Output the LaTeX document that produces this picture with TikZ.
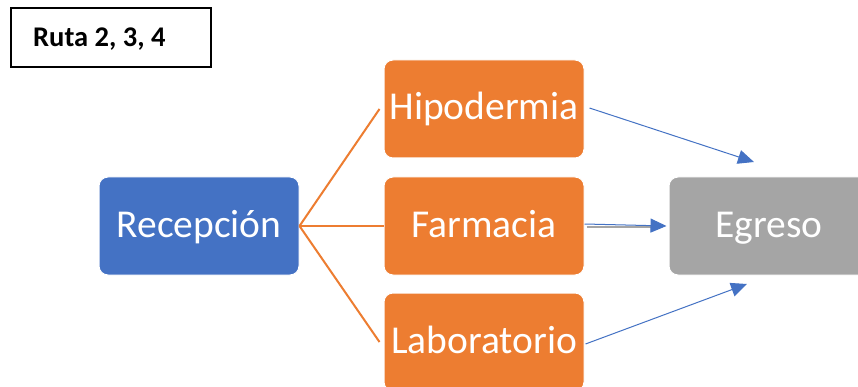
\documentclass[tikz,border=0pt]{standalone}
\usepackage{fontspec}
\setmainfont{Carlito}
\usetikzlibrary{arrows.meta}
\definecolor{offorange}{HTML}{ED7D31}
\definecolor{offblue}{HTML}{4472C4}
\definecolor{offgray}{HTML}{A5A5A5}
\tikzset{
  box/.style={draw=white, line width=1pt, rounded corners=9pt, minimum width=200pt, minimum height=98pt,
    inner sep=0pt, text=white, text height=30pt, text depth=8pt, font=\fontsize{39.5}{44}\selectfont},
  obox/.style={box, fill=offorange},
  orangeline/.style={draw=offorange, line width=2pt},
  bluearrow/.style={draw=offblue, line width=1pt, -{Triangle[length=16pt,width=14pt]}},
}
\begin{document}
\begin{tikzpicture}[x=1pt,y=-1pt]
\useasboundingbox[fill=white] (0,0) rectangle (858,387);
\node[draw=black, line width=2pt, minimum width=200pt, minimum height=59pt, inner sep=0pt] (lbl) at (111,37.5) {};
\node[anchor=base west, inner sep=0pt, font=\bfseries\fontsize{28.5}{32}\selectfont] (lbltext) at (33,47) {Ruta 2, 3, 4};
\node[box, fill=offblue] (rec) at (199,226) {Recepción};
\node[obox] (hip) at (484,109) {Hipodermia};
\node[obox] (far) at (484,226) {Farmacia};
\node[obox] (lab) at (484,342) {Laboratorio};
\node[box, fill=offgray] (egr) at (769,226) {Egreso};
\draw[orangeline] (rec.east) -- ([xshift=-4pt]hip.west);
\draw[orangeline] (rec.east) -- (far.west);
\draw[orangeline] (rec.east) -- ([xshift=-4pt]lab.west);
\coordinate (t1) at (754,162);
\coordinate (t3) at (747,284);
\draw[draw=offgray, line width=2pt] ([xshift=2pt,yshift=-1pt]far.east) -- ([xshift=-14pt,yshift=-1pt]egr.west);
\draw[bluearrow] ([xshift=5pt,yshift=1pt]hip.east) -- (t1);
\draw[bluearrow] ([yshift=2pt]far.east) -- ([xshift=-2pt]egr.west);
\draw[bluearrow] ([xshift=1pt,yshift=-2pt]lab.east) -- (t3);
\end{tikzpicture}
\end{document}
